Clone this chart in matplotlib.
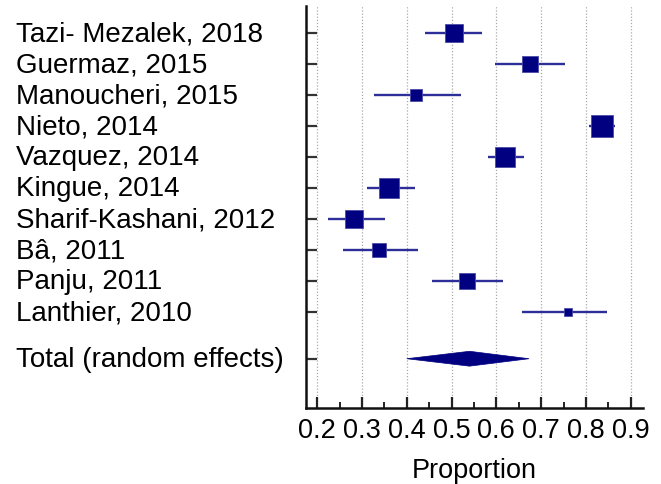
import matplotlib
matplotlib.use("Agg")
import matplotlib.pyplot as plt
from matplotlib.patches import Polygon
from matplotlib.transforms import blended_transform_factory
from matplotlib.ticker import MultipleLocator

plt.rcParams['font.family'] = ['Liberation Sans', 'DejaVu Sans']

studies = ["Tazi- Mezalek, 2018", "Guermaz, 2015", "Manoucheri, 2015", "Nieto, 2014",
           "Vazquez, 2014", "Kingue, 2014", "Sharif-Kashani, 2012", "Bâ, 2011",
           "Panju, 2011", "Lanthier, 2010"]
estimates = [0.505, 0.676, 0.420, 0.835, 0.619, 0.361, 0.283, 0.338, 0.534, 0.761]
ci_low = [0.440, 0.596, 0.327, 0.806, 0.581, 0.312, 0.225, 0.258, 0.456, 0.658]
ci_high = [0.569, 0.754, 0.520, 0.864, 0.661, 0.418, 0.351, 0.426, 0.615, 0.848]
weights = [18.7, 16.7, 11.7, 22.7, 20.3, 20.3, 18.3, 13.7, 16.0, 8.7]  # marker size (px)

total_label = "Total (random effects)"
total_est = 0.540
total_low = 0.400
total_high = 0.673

xticks = [0.2, 0.3, 0.4, 0.5, 0.6, 0.7, 0.8, 0.9]
xtick_labels = ["0.2", "0.3", "0.4", "0.5", "0.6", "0.7", "0.8", "0.9"]

W, H = 661, 485
fig = plt.figure(figsize=(W / 100, H / 100), dpi=100)
ax = fig.add_axes([306 / W, 1 - 409 / H, (643 - 306) / W, (409 - 7) / H])

navy = "#000080"
line_c = "#2e2e9a"

rows = list(range(len(studies)))
total_row = len(studies) + 0.5

for g in xticks:
    ax.axvline(g, color="#aaaaaa", lw=0.9, ls=(0, (1, 1.5)), zorder=0)

for r, e, lo, hi, w in zip(rows, estimates, ci_low, ci_high, weights):
    ax.plot([lo, hi], [r, r], color=line_c, lw=1.7, solid_capstyle="butt", zorder=2)
    ax.plot([e], [r], marker="s", color=navy, markersize=w * 0.72,
            markeredgecolor="#4a4aa8", markeredgewidth=0.6, zorder=3)

hh = 0.24
diamond = Polygon([[total_low, total_row], [total_est, total_row - hh],
                   [total_high, total_row], [total_est, total_row + hh]],
                  closed=True, facecolor=navy, edgecolor=navy, lw=0.5, zorder=3)
ax.add_patch(diamond)

ax.set_xlim(0.1748, 0.9275)
ax.set_ylim(12.09, -0.88)

ax.set_xticks(xticks)
ax.set_xticklabels(xtick_labels, fontsize=19.5)
ax.xaxis.set_minor_locator(MultipleLocator(0.05))
ax.tick_params(axis="x", which="major", direction="in", length=8, width=1.6,
               color="#222222", pad=6.5)
ax.tick_params(axis="x", which="minor", direction="in", length=4.5, width=1.4,
               color="#222222")
ax.set_yticks(rows + [total_row])
ax.set_yticklabels([])
ax.tick_params(axis="y", which="major", direction="in", length=8, width=1.6,
               color="#333333")

for s in ["top", "right"]:
    ax.spines[s].set_visible(False)
for s in ["left", "bottom"]:
    ax.spines[s].set_linewidth(1.8)
    ax.spines[s].set_color("#111111")

ax.set_xlabel("Proportion", fontsize=19.5, labelpad=10)

trans = blended_transform_factory(fig.transFigure, ax.transData)
for r, s in zip(rows, studies):
    ax.text(16.5 / W, r, s, transform=trans, ha="left", va="center", fontsize=20)
ax.text(16.5 / W, total_row, total_label, transform=trans, ha="left", va="center",
        fontsize=20)

fig.savefig("out.png", dpi=100)
